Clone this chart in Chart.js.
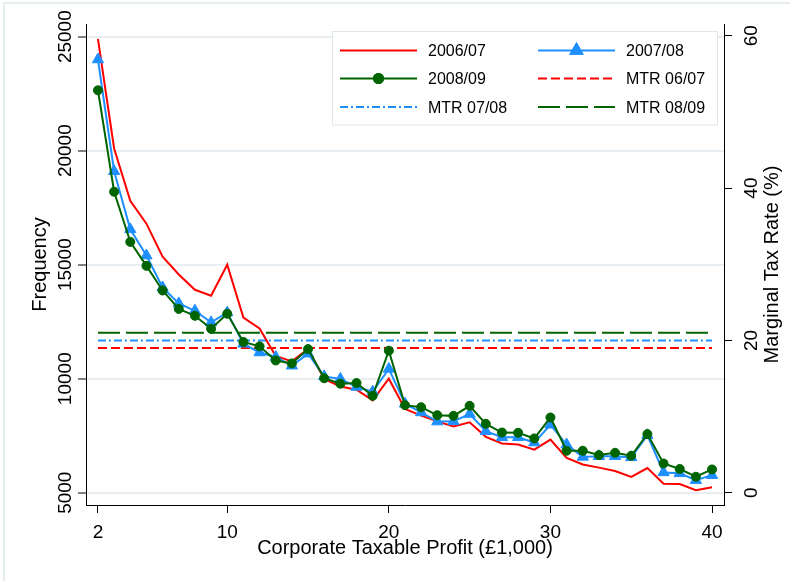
<!DOCTYPE html>
<html>
<head>
<meta charset="utf-8">
<script src="https://cdn.jsdelivr.net/npm/chart.js@4.4.1/dist/chart.umd.min.js"></script>
<style>
  html, body { margin: 0; padding: 0; background: #fff; }
</style>
</head>
<body>
<canvas id="taxChart" width="790" height="581"></canvas>
<script>
// profit bands (£1,000)
const profit = [2, 3, 4, 5, 6, 7, 8, 9, 10, 11, 12, 13, 14, 15, 16, 17, 18, 19, 20, 21,
  22, 23, 24, 25, 26, 27, 28, 29, 30, 31, 32, 33, 34, 35, 36, 37, 38, 39, 40];

// frequency of companies per band
const freq0607 = [24900, 20100, 17800, 16800, 15350, 14570, 13900, 13640, 15000, 12680,
  12200, 11000, 10760, 11300, 9990, 9660, 9520, 9050, 10000, 8670,
  8380, 8130, 7910, 8090, 7450, 7160, 7110, 6890, 7330, 6530,
  6240, 6100, 5950, 5690, 6080, 5390, 5380, 5110, 5240];
const freq0708 = [24000, 19100, 16550, 15400, 14000, 13300, 12980, 12470, 12900, 11530,
  11150, 10950, 10570, 11100, 10100, 9990, 9640, 9430, 10430, 8900,
  8520, 8120, 8130, 8450, 7700, 7430, 7430, 7200, 7980, 7110,
  6570, 6600, 6600, 6550, 7520, 5890, 5850, 5550, 5770];
const freq0809 = [22650, 18200, 16000, 14950, 13870, 13060, 12760, 12190, 12850, 11610,
  11420, 10800, 10670, 11300, 10020, 9780, 9810, 9250, 11230, 8840,
  8750, 8400, 8370, 8810, 8020, 7640, 7630, 7380, 8300, 6840,
  6840, 6650, 6750, 6620, 7570, 6280, 6040, 5700, 6020];

// marginal tax rates (%)
const mtrRates = [19, 20, 21];
const mtrLabels = ["MTR 06/07", "MTR 07/08", "MTR 08/09"];

const xTicks = [2, 10, 20, 30, 40];
const freqTicks = [5000, 10000, 15000, 20000, 25000];
const rateTicks = [0, 20, 40, 60];

const FONT = "'Liberation Sans', Arial, sans-serif";
const RED = "#ff0000";
const BLUE = "#1e8fff";
const GREEN = "#006400";

function pts(ys) {
  return profit.map(function (x, i) { return { x: x, y: ys[i] }; });
}
function flat(rate) {
  return [{ x: profit[0], y: rate }, { x: profit[profit.length - 1], y: rate }];
}

// white page + faint outer frame like the stata graph region
const framePlugin = {
  id: "frame",
  beforeDraw(chart) {
    const c = chart.ctx;
    c.save();
    c.fillStyle = "#fff";
    c.fillRect(0, 0, chart.width, chart.height);
    c.strokeStyle = "#e6edf0";
    c.lineWidth = 2;
    c.beginPath();
    c.moveTo(4, chart.height);
    c.lineTo(4, 3);
    c.lineTo(chart.width, 3);
    c.stroke();
    c.restore();
  }
};

// rotated y tick labels and titles
const yTextPlugin = {
  id: "yText",
  afterDraw(chart) {
    const c = chart.ctx;
    const area = chart.chartArea;
    const mid = (area.top + area.bottom) / 2;
    function vtext(str, baseX, y, size) {
      c.save();
      c.translate(baseX, y);
      c.rotate(-Math.PI / 2);
      c.font = size + "px " + FONT;
      c.fillStyle = "#000";
      c.textAlign = "center";
      c.textBaseline = "alphabetic";
      c.fillText(str, 0, 0);
      c.restore();
    }
    chart.scales.y.ticks.forEach(function (t) {
      vtext(String(t.value), 70.7, chart.scales.y.getPixelForValue(t.value), 19);
    });
    chart.scales.y2.ticks.forEach(function (t) {
      vtext(String(t.value), 757.3, chart.scales.y2.getPixelForValue(t.value), 19);
    });
    vtext("Frequency", 45.5, mid, 20);
    vtext("Marginal Tax Rate (%)", 778, mid, 20);
  }
};

// two column legend box inside the plot
const legendPlugin = {
  id: "boxLegend",
  afterDraw(chart) {
    const c = chart.ctx;
    c.save();
    c.fillStyle = "#fff";
    c.fillRect(332.5, 31.5, 385, 93.5);
    c.strokeStyle = "#dfe7ea";
    c.lineWidth = 1;
    c.strokeRect(332.5, 31.5, 385, 93.5);

    const order = [0, 1, 2, 3, 4, 5];
    const rows = [50.5, 78.5, 107];
    const cols = [{ x0: 340, x1: 417, tx: 428 }, { x0: 538, x1: 615, tx: 626 }];
    order.forEach(function (k, n) {
      const ds = chart.data.datasets[k];
      const y = rows[Math.floor(n / 2)];
      const col = cols[n % 2];
      c.strokeStyle = ds.borderColor;
      c.lineWidth = ds.borderWidth;
      c.setLineDash(ds.borderDash || []);
      c.beginPath();
      c.moveTo(col.x0, y);
      c.lineTo(col.x1, y);
      c.stroke();
      c.setLineDash([]);
      if (ds.pointRadius > 0) {
        Chart.helpers.drawPoint(c, {
          pointStyle: ds.pointStyle,
          radius: ds.pointRadius,
          borderWidth: ds.pointBorderWidth,
          rotation: 0
        }, (col.x0 + col.x1) / 2, y);
        c.fillStyle = ds.pointBackgroundColor;
        c.fill();
        c.strokeStyle = ds.pointBorderColor;
        c.stroke();
      }
      c.fillStyle = "#000";
      c.font = "16px " + FONT;
      c.textAlign = "left";
      c.textBaseline = "alphabetic";
      c.fillText(ds.label, col.tx, y + 5.7);
    });
    c.restore();
  }
};

new Chart(document.getElementById("taxChart"), {
  type: "line",
  data: {
    datasets: [
      {
        label: "2006/07", data: pts(freq0607), yAxisID: "y",
        borderColor: RED, borderWidth: 2, pointRadius: 0, order: 2
      },
      {
        label: "2007/08", data: pts(freq0708), yAxisID: "y",
        borderColor: BLUE, borderWidth: 2, order: 1,
        pointStyle: "triangle", pointRadius: 6.5, pointBorderWidth: 1,
        pointBackgroundColor: BLUE, pointBorderColor: BLUE
      },
      {
        label: "2008/09", data: pts(freq0809), yAxisID: "y",
        borderColor: GREEN, borderWidth: 2, order: 0,
        pointStyle: "circle", pointRadius: 4.5, pointBorderWidth: 1,
        pointBackgroundColor: GREEN, pointBorderColor: GREEN
      },
      {
        label: mtrLabels[0], data: flat(mtrRates[0]), yAxisID: "y2",
        borderColor: RED, borderWidth: 2, borderDash: [9, 4], pointRadius: 0, order: 3
      },
      {
        label: mtrLabels[1], data: flat(mtrRates[1]), yAxisID: "y2",
        borderColor: BLUE, borderWidth: 2, borderDash: [8, 3, 2, 3], pointRadius: 0, order: 4
      },
      {
        label: mtrLabels[2], data: flat(mtrRates[2]), yAxisID: "y2",
        borderColor: GREEN, borderWidth: 2, borderDash: [22, 6], pointRadius: 0, order: 5
      }
    ]
  },
  options: {
    responsive: false,
    animation: false,
    layout: { padding: { left: 78, right: 58, top: 24, bottom: 23 } },
    plugins: { legend: { display: false }, tooltip: { enabled: false } },
    elements: { line: { tension: 0 } },
    scales: {
      x: {
        type: "linear",
        min: 1.26,
        max: 40.74,
        afterBuildTicks: function (axis) { axis.ticks = xTicks.map(function (v) { return { value: v }; }); },
        grid: { drawOnChartArea: false, tickLength: 8, tickColor: "#000", tickWidth: 1 },
        border: { display: true, color: "#000", width: 1 },
        ticks: { color: "#000", padding: 10, maxRotation: 0, font: { family: FONT, size: 19, lineHeight: 1 } },
        title: {
          display: true, text: "Corporate Taxable Profit (£1,000)", color: "#000",
          font: { family: FONT, size: 20, lineHeight: 1 }, padding: { top: -14, bottom: 0 }
        }
      },
      y: {
        position: "left",
        min: 4461,
        max: 25557,
        afterBuildTicks: function (axis) { axis.ticks = freqTicks.map(function (v) { return { value: v }; }); },
        grid: { color: "#e8eef1", lineWidth: 2, tickLength: 8, tickColor: "#000", tickWidth: 1 },
        border: { display: true, color: "#000", width: 1 },
        ticks: { display: false }
      },
      y2: {
        position: "right",
        min: -1.61,
        max: 61.54,
        afterBuildTicks: function (axis) { axis.ticks = rateTicks.map(function (v) { return { value: v }; }); },
        grid: { drawOnChartArea: false, tickLength: 8, tickColor: "#000", tickWidth: 1 },
        border: { display: true, color: "#000", width: 1 },
        ticks: { display: false }
      }
    }
  },
  plugins: [framePlugin, yTextPlugin, legendPlugin]
});
</script>
</body>
</html>
